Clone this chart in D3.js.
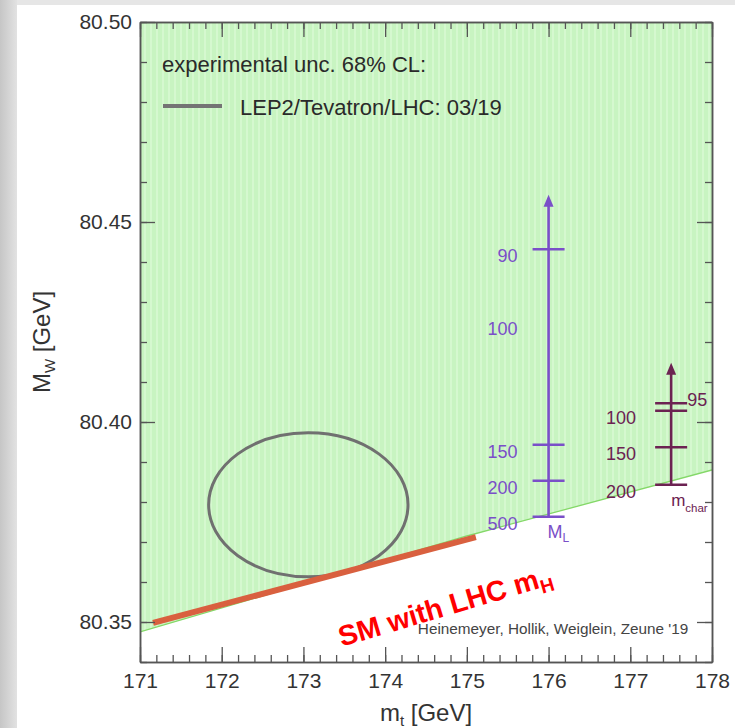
<!DOCTYPE html>
<html>
<head>
<meta charset="utf-8">
<script src="https://cdn.jsdelivr.net/npm/d3@7"></script>
<style>
  html, body { margin: 0; padding: 0; background: #fff; }
  svg { display: block; }
  text { font-family: "Liberation Sans", Arial, Helvetica, sans-serif; }
</style>
</head>
<body>
<svg id="chart" width="735" height="728"></svg>
<script>
// ---- data ----
const mtTicks = [171, 172, 173, 174, 175, 176, 177, 178];
const mwTicks = [80.35, 80.40, 80.45, 80.50];

// lower edge of the allowed MSSM band
const bandMt = [171, 173, 175, 178];
const bandMw = [80.3475, 80.3595, 80.3715, 80.388];

// SM prediction with LHC Higgs mass
const smMt = [171.16, 175.11];
const smMw = [80.3498, 80.3712];

// experimental 68% CL ellipse: centre and semi-axes
const expCentre = [173.06, 80.3793];
const expSemi = [1.22, 0.018];

// M_L scan (slepton mass) at fixed mt
const mlMt = 176;
const mlArrowTop = 80.4568;
const mlMass = ["90", "100", "150", "200", "500"];
const mlMw = [80.4432, 80.4250, 80.3943, 80.3853, 80.3763];
const mlTick = [true, false, true, true, true];

// m_char scan (chargino mass) at fixed mt
const mcMt = 177.5;
const mcArrowTop = 80.4148;
const mcMass = ["95", "100", "150", "200"];
const mcMw = [80.4047, 80.4028, 80.3937, 80.3843];

// ---- layout ----
const svg = d3.select("#chart");
const W = 735, H = 728;
const plot = { left: 140, right: 712, top: 22, bottom: 662 };

const x = d3.scaleLinear().domain([171, 178]).range([plot.left, plot.right]);
const y = d3.scaleLinear().domain([80.34, 80.50]).range([plot.bottom, plot.top]);

// slide backdrop
const defs = svg.append("defs");
const bg = defs.append("linearGradient").attr("id", "side").attr("x1", 0).attr("x2", 1);
bg.append("stop").attr("offset", 0).attr("stop-color", "#c6c6c6");
bg.append("stop").attr("offset", 1).attr("stop-color", "#e2e2e2");
svg.append("rect").attr("width", W).attr("height", H).attr("fill", "#e6e6e6");
svg.append("rect").attr("width", 17).attr("height", H).attr("fill", "url(#side)");
svg.append("rect").attr("x", 17).attr("y", 5).attr("width", W - 17).attr("height", H - 5).attr("fill", "#ffffff");

// striped green fill
const pat = defs.append("pattern").attr("id", "stripes")
  .attr("patternUnits", "userSpaceOnUse").attr("width", 6).attr("height", 10);
pat.append("rect").attr("width", 6).attr("height", 10).attr("fill", "#c8f4c1");
pat.append("rect").attr("width", 2).attr("height", 10).attr("fill", "#d5f8cf");

defs.append("clipPath").attr("id", "plotclip").append("rect")
  .attr("x", plot.left).attr("y", plot.top)
  .attr("width", plot.right - plot.left).attr("height", plot.bottom - plot.top);

const g = svg.append("g").attr("clip-path", "url(#plotclip)");

const band = bandMt.map((m, i) => ({ mt: m, mw: bandMw[i] }));
g.append("path").datum(band)
  .attr("fill", "url(#stripes)")
  .attr("d", d3.area().x(d => x(d.mt)).y0(d => y(d.mw)).y1(y(80.50)));
g.append("path").datum(band)
  .attr("fill", "none").attr("stroke", "#84d868").attr("stroke-width", 1.3)
  .attr("d", d3.line().x(d => x(d.mt)).y(d => y(d.mw)));

// experimental ellipse
g.append("ellipse")
  .attr("cx", x(expCentre[0])).attr("cy", y(expCentre[1]))
  .attr("rx", x(expCentre[0] + expSemi[0]) - x(expCentre[0]))
  .attr("ry", y(expCentre[1]) - y(expCentre[1] + expSemi[1]))
  .attr("fill", "none").attr("stroke", "#707070").attr("stroke-width", 3);

// SM line
g.append("path").datum(smMt.map((m, i) => ({ mt: m, mw: smMw[i] })))
  .attr("fill", "none").attr("stroke", "#d9603f").attr("stroke-width", 6)
  .attr("d", d3.line().x(d => x(d.mt)).y(d => y(d.mw)));

// scan arrows
function scanArrow(mt, top, values, ticks, colour) {
  const bottom = d3.min(values.filter((v, i) => ticks[i]));
  const cx = x(mt), ty = y(top);
  g.append("line").attr("x1", cx).attr("x2", cx)
    .attr("y1", y(bottom)).attr("y2", ty + 8)
    .attr("stroke", colour).attr("stroke-width", 2.6);
  g.append("path")
    .attr("d", `M${cx},${ty} L${cx - 5},${ty + 12} L${cx + 5},${ty + 12} Z`)
    .attr("fill", colour);
  g.selectAll(null).data(values.filter((v, i) => ticks[i])).enter().append("line")
    .attr("x1", cx - 16).attr("x2", cx + 16)
    .attr("y1", d => y(d)).attr("y2", d => y(d))
    .attr("stroke", colour).attr("stroke-width", 2.4);
}

const purple = "#7a4fc8";
const maroon = "#6c2252";

scanArrow(mlMt, mlArrowTop, mlMw, mlTick, purple);
g.selectAll(null).data(mlMass).enter().append("text")
  .attr("x", x(mlMt) - 31).attr("y", (d, i) => y(mlMw[i]) + 13)
  .attr("text-anchor", "end").attr("font-size", 18).attr("fill", purple)
  .text(d => d);
const ml = g.append("text").attr("x", x(mlMt) - 1).attr("y", y(d3.min(mlMw)) + 21)
  .attr("font-size", 18).attr("fill", purple);
ml.append("tspan").text("M");
ml.append("tspan").attr("font-size", 12).attr("dy", 4).text("L");

scanArrow(mcMt, mcArrowTop, mcMw, mcMw.map(() => true), maroon);
g.selectAll(null).data(mcMass.slice(1)).enter().append("text")
  .attr("x", x(mcMt) - 35).attr("y", (d, i) => y(mcMw[i + 1]) + 13)
  .attr("text-anchor", "end").attr("font-size", 18).attr("fill", maroon)
  .text(d => d);
g.append("text").attr("x", x(mcMt) + 16).attr("y", y(mcMw[0]) + 3)
  .attr("font-size", 18).attr("fill", maroon).text(mcMass[0]);
const mc = g.append("text").attr("x", x(mcMt)).attr("y", y(d3.min(mcMw)) + 21)
  .attr("font-size", 17).attr("fill", maroon);
mc.append("tspan").text("m");
mc.append("tspan").attr("font-size", 11.5).attr("dy", 6).text("char");

// legend
g.append("text").attr("x", plot.left + 22).attr("y", plot.top + 50)
  .attr("font-size", 22).attr("fill", "#2a2a2a").text("experimental unc. 68% CL:");
g.append("line").attr("x1", plot.left + 23).attr("x2", plot.left + 82)
  .attr("y1", plot.top + 84).attr("y2", plot.top + 84)
  .attr("stroke", "#747474").attr("stroke-width", 4);
g.append("text").attr("x", plot.left + 100).attr("y", plot.top + 93)
  .attr("font-size", 22).attr("fill", "#2a2a2a").text("LEP2/Tevatron/LHC: 03/19");

// credit
g.append("text").attr("x", x(174.40)).attr("y", y(80.347))
  .attr("font-size", 15.3).attr("fill", "#444").text("Heinemeyer, Hollik, Weiglein, Zeune '19");

// SM annotation
const sm = svg.append("text")
  .attr("transform", `translate(${x(173.47)},${y(80.3438)}) rotate(-16.5)`)
  .attr("font-family", "Lato, 'Open Sans', sans-serif").attr("font-weight", 700)
  .attr("font-size", 28.5).attr("fill", "#ff0000");
sm.append("tspan").text("SM with LHC m");
sm.append("tspan").attr("font-size", 19).attr("dy", 6).text("H");

// ---- axes ----
const axisStyle = sel => {
  sel.selectAll(".domain").attr("stroke", "#555").attr("stroke-width", 1.5);
  sel.selectAll(".tick line").attr("stroke", "#555").attr("stroke-width", 1.3);
  sel.selectAll(".tick text").attr("fill", "#333").attr("font-size", 21)
    .attr("font-family", "'Liberation Sans', Arial, sans-serif");
};
const minorMt = d3.range(0, 36).map(i => 171 + i * 0.2);
const minorMw = d3.range(0, 17).map(i => 80.34 + i * 0.01);

svg.append("g").attr("transform", `translate(0,${plot.bottom})`)
  .call(d3.axisBottom(x).tickValues(minorMt).tickFormat("").tickSize(-7).tickSizeOuter(0)).call(axisStyle);
svg.append("g").attr("transform", `translate(0,${plot.bottom})`)
  .call(d3.axisBottom(x).tickValues(mtTicks).tickFormat(d3.format("d")).tickSize(-15).tickSizeOuter(0).tickPadding(11))
  .call(axisStyle);
svg.append("g").attr("transform", `translate(0,${plot.top})`)
  .call(d3.axisTop(x).tickValues(minorMt).tickFormat("").tickSize(-7).tickSizeOuter(0)).call(axisStyle);
svg.append("g").attr("transform", `translate(0,${plot.top})`)
  .call(d3.axisTop(x).tickValues(mtTicks).tickFormat("").tickSize(-15).tickSizeOuter(0)).call(axisStyle);

svg.append("g").attr("transform", `translate(${plot.left},0)`)
  .call(d3.axisLeft(y).tickValues(minorMw).tickFormat("").tickSize(-7).tickSizeOuter(0)).call(axisStyle);
svg.append("g").attr("transform", `translate(${plot.left},0)`)
  .call(d3.axisLeft(y).tickValues(mwTicks).tickFormat(d3.format(".2f")).tickSize(-15).tickSizeOuter(0).tickPadding(8))
  .call(axisStyle);
svg.append("g").attr("transform", `translate(${plot.right},0)`)
  .call(d3.axisRight(y).tickValues(minorMw).tickFormat("").tickSize(-7).tickSizeOuter(0)).call(axisStyle);
svg.append("g").attr("transform", `translate(${plot.right},0)`)
  .call(d3.axisRight(y).tickValues(mwTicks).tickFormat("").tickSize(-15).tickSizeOuter(0)).call(axisStyle);

// axis titles
const xt = svg.append("text").attr("x", (plot.left + plot.right) / 2).attr("y", 721)
  .attr("text-anchor", "middle").attr("font-size", 24).attr("fill", "#333");
xt.append("tspan").text("m");
xt.append("tspan").attr("font-size", 15).attr("dy", 5).text("t");
xt.append("tspan").attr("dy", -5).text(" [GeV]");

const yt = svg.append("text").attr("transform", `translate(50,${(plot.top + plot.bottom) / 2}) rotate(-90)`)
  .attr("text-anchor", "middle").attr("font-size", 24).attr("fill", "#333");
yt.append("tspan").text("M");
yt.append("tspan").attr("font-size", 15).attr("dy", 5).text("W");
yt.append("tspan").attr("dy", -5).text(" [GeV]");
</script>
</body>
</html>
